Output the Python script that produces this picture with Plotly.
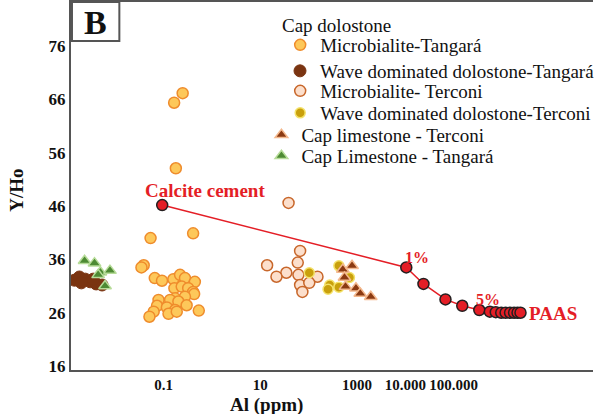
import plotly.graph_objects as go

# ---------------- data (Al in ppm, Y/Ho) ----------------
micro_tang_al = [0.249, 0.166, 0.180, 0.054, 0.41, 0.039, 0.035, 0.066, 0.093, 0.160, 0.220,
                 0.278, 0.445, 0.168, 0.238, 0.324, 0.41, 0.43, 0.174, 0.278, 0.079, 0.137,
                 0.203, 0.0735, 0.301, 0.1175, 0.174, 0.0626, 0.0512, 0.127, 0.188, 0.537]
micro_tang_y = [67.2, 65.4, 53.1, 40.0, 40.9, 34.9, 34.5, 32.5, 32.0, 32.3, 33.1,
                32.5, 31.8, 30.6, 30.9, 30.6, 29.9, 29.5, 28.7, 29.0, 28.4, 28.4,
                28.1, 27.3, 27.4, 27.0, 26.5, 26.2, 25.25, 25.8, 26.2, 26.4]

wave_tang_al = [0.00144, 0.00182, 0.00241, 0.00305, 0.00405, 0.00537, 0.00200, 0.00352]
wave_tang_y = [32.1, 32.7, 32.3, 31.8, 31.4, 31.2, 31.6, 32.3]

micro_terc_al = [38.6, 66.9, 59.8, 13.9, 34.7, 21.7, 61.8, 153, 66.9, 103.5, 74.5]
micro_terc_y = [46.6, 37.6, 35.4, 34.9, 33.5, 32.75, 33.1, 32.75, 31.2, 31.6, 29.9]

wave_terc_al = [103.6, 424, 274, 253, 424, 701]
wave_terc_y = [33.5, 34.8, 31.2, 30.4, 30.8, 32.6]

caplime_terc_al = [512, 793, 554, 581, 956, 1175, 1936]
caplime_terc_y = [34.1, 34.8, 32.6, 30.9, 30.6, 29.6, 29.0]

caplime_tang_al = [0.00233, 0.00374, 0.00495, 0.00781, 0.00445, 0.00618]
caplime_tang_y = [35.75, 35.3, 33.6, 33.9, 33.1, 31.0]

mix_al = [0.094, 10500, 23800, 67900, 151000, 340000, 562000, 745000, 966000,
          1190000, 1470000, 1780000, 2100000, 2420000]
mix_y = [46.2, 34.5, 31.4, 28.5, 27.3, 26.5, 26.2, 26.1, 26.0, 26.0, 26.0, 26.0, 26.0, 26.0]

x_tickvals = [0.1, 10, 1000, 10000, 100000]
x_ticktext = ["0.1", "10", "1000", "10.000", "100.000"]
y_tickvals = [16, 26, 36, 46, 56, 66, 76]

series_names = ["Microbialite-Tangará", "Wave dominated dolostone-Tangará",
                "Microbialite- Terconi", "Wave dominated dolostone-Terconi",
                "Cap limestone - Terconi", "Cap Limestone - Tangará"]

# ---------------- layout helpers ----------------
W, H = 600, 414
ML, MR, MT, MB = 71, 0, 2, 44
PW, PH = W - ML - MR, H - MT - MB
SERIF = "'Liberation Serif', 'Times New Roman', 'DejaVu Serif', serif"
RED = "#e41e26"


def px(xp, yp):
    return (xp - ML) / PW, (H - MB - yp) / PH


fig = go.Figure()

styles = [
    (micro_tang_al, micro_tang_y, "circle", 11, "#fdc85a", "#ef8c2c", 1.5),
    (wave_tang_al, wave_tang_y, "circle", 12, "#7a3411", "#7a3411", 1),
    (micro_terc_al, micro_terc_y, "circle", 11, "#fcdfcc", "#c8672b", 1.5),
    (wave_terc_al, wave_terc_y, "circle", 10, "#c9a00c", "#f4e26a", 1.5),
    (caplime_terc_al, caplime_terc_y, "triangle-up", 11, "#8b3a12", "#f4b98e", 1.5),
    (caplime_tang_al, caplime_tang_y, "triangle-up", 11, "#4d8a33", "#b7dc99", 1.5),
]
legend_pos = [(303, 45), (303, 71), (303, 91), (303, 113), (284, 135), (284, 156)]

for i, (xs, ys, sym, size, fc, lc, lw) in enumerate(styles):
    lid = "legend" if i == 0 else f"legend{i + 1}"
    fig.add_trace(go.Scatter(
        x=xs, y=ys, mode="markers", name=series_names[i], legend=lid,
        marker=dict(symbol=sym, size=size, color=fc, line=dict(color=lc, width=lw)),
    ))

fig.add_trace(go.Scatter(
    x=mix_al, y=mix_y, mode="lines+markers", showlegend=False,
    line=dict(color=RED, width=1.5),
    marker=dict(size=11, color=RED, line=dict(color="#231f20", width=1.5)),
))

legends = {}
for i, (lx, ly) in enumerate(legend_pos):
    key = "legend" if i == 0 else f"legend{i + 1}"
    xp, yp = px(lx - 20, ly)
    legends[key] = dict(x=xp, y=yp, xanchor="left", yanchor="middle",
                        bgcolor="rgba(0,0,0,0)", borderwidth=0,
                        font=dict(family=SERIF, size=19, color="#111"),
                        itemsizing="trace")

annotations = []


def add_text(text, xp_, yp_, size, color="#111", xanchor="center", angle=0, bold=False):
    x_, y_ = px(xp_, yp_)
    annotations.append(dict(
        text=f"<b>{text}</b>" if bold else text, x=x_, y=y_, xref="paper", yref="paper",
        xanchor=xanchor, yanchor="middle", showarrow=False, textangle=angle,
        font=dict(family=SERIF, size=size, color=color)))


add_text("Cap dolostone", 283, 25, 19, xanchor="left")
add_text("Calcite cement", 207, 190, 19, RED, bold=True)
add_text("1%", 422, 257, 16, RED, bold=True)
add_text("5%", 494, 299, 16, RED, bold=True)
add_text("PAAS", 559, 313, 19, RED, bold=True)
add_text("B", 96, 22, 34, bold=True)
add_text("Al (ppm)", 269, 405, 19, bold=True)
add_text("Y/Ho", 15, 190, 19, angle=-90, bold=True)

bx0, by0 = px(72, 41)
bx1, by1 = px(120, 2)

fig.update_layout(
    width=W, height=H, margin=dict(l=ML, r=MR, t=MT, b=MB),
    paper_bgcolor="white", plot_bgcolor="white",
    font=dict(family=SERIF),
    xaxis=dict(type="log", range=[-2.913, 7.883], tickvals=x_tickvals, ticktext=x_ticktext,
               showgrid=False, zeroline=False, showline=True, linecolor="#555", linewidth=2,
               mirror=True, ticks="",
               tickfont=dict(family=SERIF, size=15, color="#111", weight="bold")),
    yaxis=dict(range=[15.25, 84.3], tickvals=y_tickvals, showgrid=False, zeroline=False,
               showline=True, linecolor="#555", linewidth=2, ticks="",
               tickfont=dict(family=SERIF, size=17, color="#111", weight="bold")),
    shapes=[dict(type="rect", xref="paper", yref="paper", x0=bx0, y0=by0, x1=bx1, y1=by1,
                 line=dict(color="#555", width=2), fillcolor="white")],
    annotations=annotations,
    **legends,
)

fig.write_html("out.html")
